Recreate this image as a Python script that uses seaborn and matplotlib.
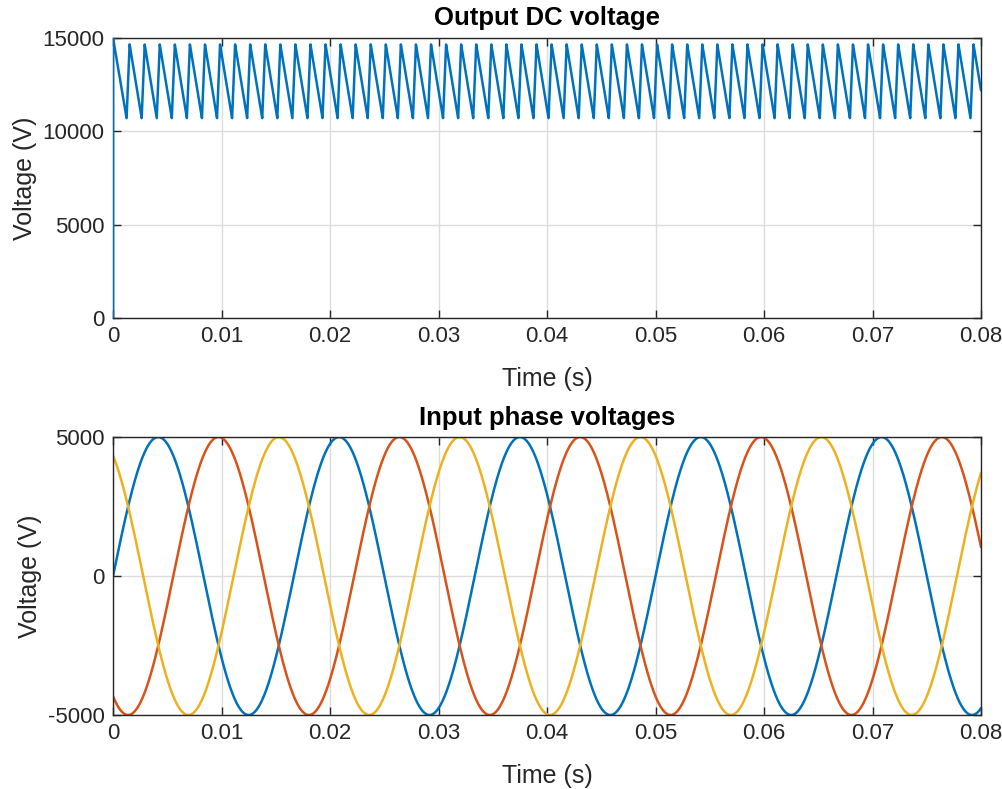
import numpy as np
import pandas as pd
import matplotlib
matplotlib.use("Agg")
import matplotlib.pyplot as plt
import seaborn as sns

# values
x_ticks = [0, 0.01, 0.02, 0.03, 0.04, 0.05, 0.06, 0.07, 0.08]
x_tick_labels = ["0", "0.01", "0.02", "0.03", "0.04", "0.05", "0.06", "0.07", "0.08"]
dc_y_ticks = [0, 5000, 10000, 15000]
ac_y_ticks = [-5000, 0, 5000]

# output DC voltage: 12-pulse ripple (720 Hz)
ripple_freq = 720.0
ripple_offset = 0.1      # fraction of a ripple period
dc_start_peak = 15000.0
dc_peak = 14650.0
dc_trough = 10700.0
rise_frac = 0.2          # part of each tooth spent rising

# input phase voltages
phase_amp = 5000.0
line_freq = 60.0
phase_names = ["Va", "Vb", "Vc"]
phase_shift_deg = [0, -120, 120]
phase_colors = ["#0072BD", "#D95319", "#EDB120"]

t_end = 0.08

"""build the traces"""

t = np.linspace(0, t_end, 40001)
T = 1.0 / ripple_freq
ph = ((t - ripple_offset * T) % T) / T
d = 1 - rise_frac
v_dc = np.where(
    ph < d,
    dc_peak - (dc_peak - dc_trough) * ph / d,
    dc_trough + (dc_peak - dc_trough) * (ph - d) / rise_frac,
)
# first tooth starts from the initial charge
t1 = (1 + ripple_offset - rise_frac) * T
t2 = (1 + ripple_offset) * T
first = np.where(
    t < t1,
    dc_start_peak - (dc_start_peak - dc_trough) * t / t1,
    dc_trough + (dc_peak - dc_trough) * (t - t1) / (t2 - t1),
)
v_dc = np.where(t < t2, first, v_dc)
t_dc = np.concatenate([[0.0], t])
v_dc = np.concatenate([[0.0], v_dc])
dc = pd.DataFrame({"time": t_dc, "v": v_dc})

ac_parts = []
for name, sh in zip(phase_names, phase_shift_deg):
    v = phase_amp * np.sin(2 * np.pi * line_freq * t + np.deg2rad(sh))
    ac_parts.append(pd.DataFrame({"time": t, "v": v, "phase": name}))
ac = pd.concat(ac_parts, ignore_index=True)

"""plot"""

sns.set_theme(style="white")
plt.rcParams["font.family"] = ["Liberation Sans", "DejaVu Sans"]
txt = "#262626"

fig = plt.figure(figsize=(10.03, 7.89), dpi=100)
ax1 = fig.add_axes([0.1127, 0.597, 0.8654, 0.355])
ax2 = fig.add_axes([0.1127, 0.0938, 0.8654, 0.3523])

sns.lineplot(data=dc, x="time", y="v", ax=ax1, color=phase_colors[0],
             linewidth=1.8, estimator=None, sort=False, zorder=3)
sns.lineplot(data=ac, x="time", y="v", hue="phase", palette=phase_colors,
             ax=ax2, linewidth=1.8, estimator=None, sort=False, legend=False)

for ax, yt, title in [(ax1, dc_y_ticks, "Output DC voltage"),
                      (ax2, ac_y_ticks, "Input phase voltages")]:
    ax.set_xlim(0, t_end)
    ax.set_ylim(yt[0], yt[-1])
    ax.set_xticks(x_ticks)
    ax.set_xticklabels(x_tick_labels)
    ax.set_yticks(yt)
    ax.set_yticklabels([str(v) for v in yt])
    ax.grid(True, color="#dcdcdc", linewidth=1.0)
    ax.set_axisbelow(True)
    for s in ax.spines.values():
        s.set_visible(True)
        s.set_color(txt)
        s.set_linewidth(1.0)
    ax.tick_params(direction="in", length=6, width=1.0, color=txt,
                   labelsize=16, labelcolor=txt, pad=6,
                   top=True, right=True, bottom=True, left=True)
    ax.set_xlabel("Time (s)", fontsize=18, color=txt, labelpad=14)
    ax.set_ylabel("Voltage (V)", fontsize=18, color=txt, labelpad=4)
    ax.set_title(title, fontsize=18.5, fontweight="bold", color="black", pad=9)

fig.savefig("out.png", dpi=100)
